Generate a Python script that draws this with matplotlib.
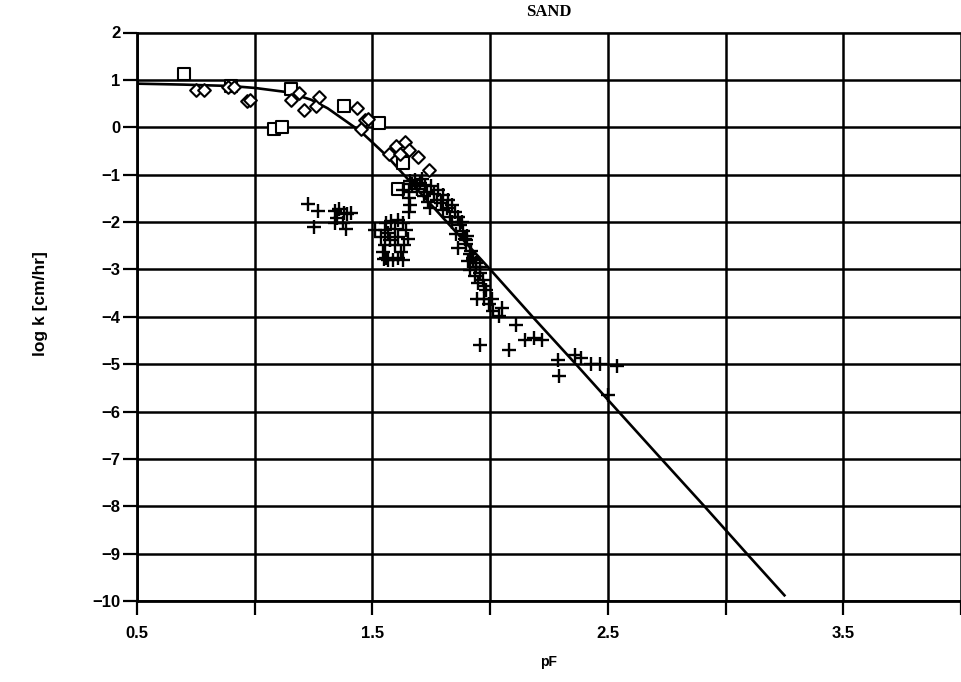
import matplotlib
matplotlib.use("Agg")
import matplotlib.pyplot as plt
import numpy as np

# ---------------- data ----------------
curve_pf = [0.50, 0.70, 0.90, 1.00, 1.14, 1.24, 1.31, 1.39, 1.45, 1.50, 1.56,
            1.633, 1.816, 2.00, 2.18, 2.364, 2.545, 2.727, 2.91, 3.09, 3.25]
curve_logk = [0.92, 0.90, 0.87, 0.83, 0.74, 0.58, 0.40, 0.12, -0.09, -0.32, -0.60,
              -1.00, -2.00, -3.00, -4.00, -5.00, -6.00, -7.00, -8.00, -9.00, -9.88]

square_pf = [0.70, 0.90, 1.154, 1.38, 1.527, 1.08, 1.115, 1.630, 1.607]
square_logk = [1.12, 0.87, 0.80, 0.44, 0.08, -0.04, 0.00, -0.76, -1.30]

diamond_pf = [0.751, 0.786, 0.885, 0.910, 0.968, 0.982, 1.187, 1.154, 1.210, 1.261,
              1.272, 1.436, 1.470, 1.480, 1.450, 1.598, 1.637, 1.654, 1.570, 1.619,
              1.693, 1.742]
diamond_logk = [0.78, 0.79, 0.85, 0.85, 0.545, 0.58, 0.72, 0.565, 0.355, 0.45,
                0.63, 0.40, 0.145, 0.17, -0.04, -0.39, -0.32, -0.47, -0.56, -0.57,
                -0.63, -0.90]

plus_pf = [
    1.228, 1.270, 1.250,
    1.341, 1.359, 1.380, 1.394, 1.349, 1.373, 1.387, 1.341, 1.408,
    1.559, 1.580, 1.608, 1.629, 1.643, 1.650, 1.636, 1.622, 1.608, 1.587,
    1.559, 1.545, 1.552, 1.538, 1.552, 1.566, 1.594, 1.608, 1.594, 1.573,
    1.510, 1.629, 1.566, 1.549,
    1.661, 1.682, 1.703, 1.724, 1.689, 1.731, 1.717, 1.738, 1.745, 1.654,
    1.654, 1.661, 1.654, 1.780, 1.801, 1.822, 1.836, 1.815, 1.850, 1.864,
    1.836, 1.871, 1.885, 1.857, 1.864, 1.892, 1.899, 1.920, 1.927, 1.941,
    1.906, 1.955, 1.773, 1.630,
    1.670, 1.690, 1.710, 1.750, 1.760, 1.790, 1.800, 1.830, 1.880, 1.900,
    1.899, 1.913, 1.927, 1.941, 1.955, 1.969, 1.976, 1.913, 1.934, 1.948,
    1.983, 1.997,
    1.944, 1.972, 2.007, 2.014, 2.049, 2.039, 1.958, 2.110, 2.082, 2.148,
    2.186, 2.221, 2.289, 2.292, 2.359, 2.387, 2.430, 2.468, 2.538, 2.500,
]
plus_logk = [
    -1.61, -1.77, -2.11,
    -1.77, -1.72, -1.81, -1.84, -1.91, -2.02, -2.15, -2.02, -1.82,
    -2.03, -1.97, -1.95, -2.03, -2.17, -2.35, -2.49, -2.63, -2.77, -2.80,
    -2.77, -2.63, -2.49, -2.31, -2.17, -2.24, -2.14, -2.31, -2.49, -2.38,
    -2.17, -2.80, -2.80, -2.79,
    -1.14, -1.11, -1.18, -1.21, -1.25, -1.36, -1.46, -1.57, -1.71, -1.36,
    -1.50, -1.64, -1.79, -1.32, -1.43, -1.54, -1.64, -1.71, -1.79, -1.89,
    -1.99, -2.07, -2.18, -2.25, -2.54, -2.36, -2.46, -2.61, -2.75, -2.86,
    -2.82, -2.96, -1.54, -1.32,
    -1.20, -1.30, -1.10, -1.25, -1.40, -1.60, -1.75, -1.90, -2.00, -2.30,
    -2.39, -2.67, -2.81, -2.94, -3.08, -3.22, -3.36, -3.01, -3.15, -3.29,
    -3.43, -3.74,
    -3.63, -3.63, -3.63, -3.87, -3.82, -3.98, -4.60, -4.17, -4.71, -4.50,
    -4.45, -4.50, -4.92, -5.26, -4.81, -4.88, -5.00, -5.00, -5.03, -5.65,
]

x_ticks = [0.5, 1.0, 1.5, 2.0, 2.5, 3.0, 3.5, 4.0]
x_ticklabels = ["0.5", "", "1.5", "", "2.5", "", "3.5", ""]
y_ticks = list(range(-10, 3))
y_ticklabels = [str(v).replace("-", "\u2212") for v in y_ticks]

# ---------------- figure ----------------
W, H = 961, 682
fig = plt.figure(figsize=(W / 100, H / 100), dpi=100)
left, right, top, bottom = 137, 961, 32.5, 601
ax = fig.add_axes([left / W, 1 - bottom / H, (right - left) / W, (bottom - top) / H])

ax.set_xlim(0.5, 0.5 + (right - left) / 237.0)
ax.set_ylim(-10, 2)

ax.set_xticks(x_ticks)
ax.set_xticklabels(x_ticklabels)
ax.set_yticks(y_ticks)
ax.set_yticklabels(y_ticklabels)

for t in ax.get_xticklabels() + ax.get_yticklabels():
    t.set_fontfamily("Liberation Sans")
    t.set_fontweight("bold")
    t.set_fontsize(12)

ax.tick_params(axis="both", direction="out", length=10, width=1.6, color="black")
ax.tick_params(axis="y", pad=2)
ax.tick_params(axis="x", pad=8)
ax.grid(True, color="black", linewidth=1.8)
ax.set_axisbelow(True)

ax.spines["right"].set_visible(False)
ax.spines["top"].set_linewidth(1.2)
ax.spines["left"].set_linewidth(2.0)
ax.spines["bottom"].set_linewidth(2.0)

ax.plot(curve_pf, curve_logk, color="black", linewidth=1.9, zorder=3)
ax.scatter(square_pf, square_logk, marker="s", s=75, facecolors="white",
           edgecolors="black", linewidths=1.5, zorder=4)
ax.scatter(diamond_pf, diamond_logk, marker="D", s=42, facecolors="white",
           edgecolors="black", linewidths=1.5, zorder=4)
ax.scatter(plus_pf, plus_logk, marker="+", s=100, color="black",
           linewidths=1.7, zorder=5)

ax.set_title("SAND", fontfamily="Liberation Serif", fontweight="bold",
             fontsize=12, pad=12)
ax.set_xlabel("pF", fontfamily="Liberation Sans", fontweight="bold",
              fontsize=10, labelpad=10)
ax.set_ylabel("log k [cm/hr]", fontfamily="Liberation Sans", fontweight="bold",
              fontsize=12.5)
ax.yaxis.set_label_coords((48 - left) / (right - left), (bottom - 304) / (bottom - top))

fig.savefig("out.png", dpi=100)
